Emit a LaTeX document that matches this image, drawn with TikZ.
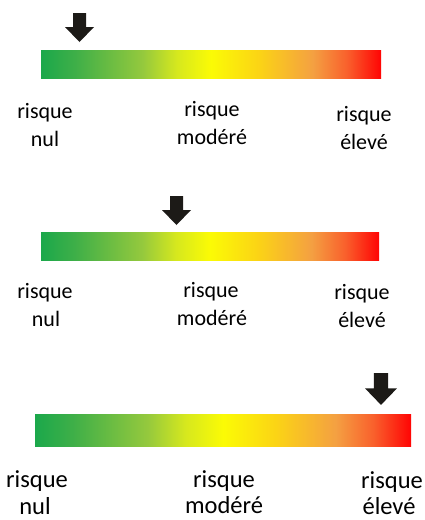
\documentclass[tikz,border=0pt]{standalone}
\usepackage{fontspec}
\setmainfont{Carlito}
\definecolor{rg}{HTML}{1BA84B}
\definecolor{rg2}{HTML}{3EAF48}
\definecolor{rlg}{HTML}{95C93D}
\definecolor{ryg}{HTML}{D6E81E}
\definecolor{ry}{HTML}{FBFB05}
\definecolor{ryo}{HTML}{FBD415}
\definecolor{ro}{HTML}{F4A042}
\definecolor{ror}{HTML}{F9602C}
\definecolor{rr}{HTML}{FF0404}
\definecolor{arr}{HTML}{1C1A17}
\pgfdeclarehorizontalshading{riskshade}{100bp}{color(0bp)=(rg); color(25bp)=(rg); color(30bp)=(rg2); color(40bp)=(rlg); color(45bp)=(ryg); color(50bp)=(ry); color(57bp)=(ryo); color(65bp)=(ro); color(70bp)=(ror); color(75bp)=(rr); color(100bp)=(rr)}
\tikzset{
  riskbar/.style={shading=riskshade},
  pointer/.style={fill=arr},
  lbl/.style={anchor=base, inner sep=0pt, font=\fontsize{22}{26}\selectfont},
  lblbig/.style={anchor=base, inner sep=0pt, font=\fontsize{24.5}{29}\selectfont}
}
\newcommand{\downarrowshape}[3]{% center x, top y, scale
  \fill[pointer] (#1-6.5*#3,#2) -- (#1+6.5*#3,#2) -- (#1+6.5*#3,#2+14*#3) -- (#1+14.5*#3,#2+14*#3)
    -- (#1,#2+29*#3) -- (#1-14.5*#3,#2+14*#3) -- (#1-6.5*#3,#2+14*#3) -- cycle;}
\begin{document}
\begin{tikzpicture}[x=1pt,y=-1pt]
\useasboundingbox (0,0) rectangle (424,520);
% panel 1
\shade[riskbar] (41,50) rectangle (381,78);
\downarrowshape{79.5}{13}{1}
\node[lbl] (a1) at (45,118) {risque};
\node[lbl] (a2) at (45,146) {nul};
\node[lbl] (b1) at (212,116) {risque};
\node[lbl] (b2) at (212,144) {modéré};
\node[lbl] (c1) at (364,121) {risque};
\node[lbl] (c2) at (364,149) {élevé};
% panel 2
\shade[riskbar] (41,232) rectangle (379,260);
\downarrowshape{176.5}{196}{1}
\node[lbl] (d1) at (45,298) {risque};
\node[lbl] (d2) at (46,326) {nul};
\node[lbl] (e1) at (211,297) {risque};
\node[lbl] (e2) at (212,325) {modéré};
\node[lbl] (f1) at (362,299) {risque};
\node[lbl] (f2) at (362,327) {élevé};
% panel 3
\shade[riskbar] (35,414) rectangle (411,446);
\downarrowshape{381}{373}{1.1}
\node[lblbig] (g1) at (37,487) {risque};
\node[lblbig] (g2) at (35,514) {nul};
\node[lblbig] (h1) at (224,487) {risque};
\node[lblbig] (h2) at (224,513) {modéré};
\node[lblbig] (i1) at (392,488) {risque};
\node[lblbig] (i2) at (389,514) {élevé};
\end{tikzpicture}
\end{document}
